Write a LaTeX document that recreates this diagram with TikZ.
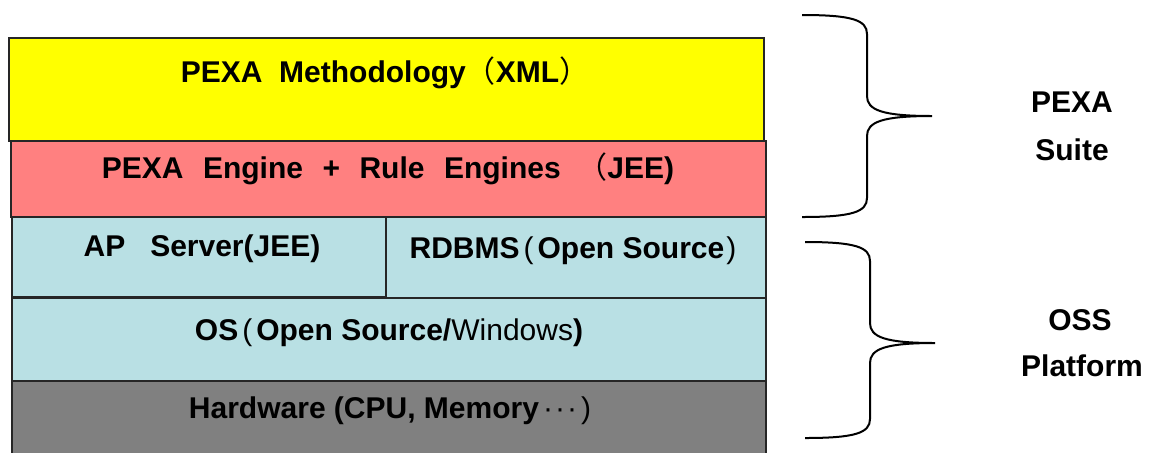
\documentclass[tikz,border=0pt]{standalone}
\usepackage{fontspec}
\setmainfont{Liberation Sans}
\newfontfamily\cjk{Noto Sans CJK SC}
\definecolor{pexayellow}{RGB}{255,255,0}
\definecolor{pexapink}{RGB}{255,128,128}
\definecolor{pexablue}{RGB}{185,224,228}
\definecolor{pexagray}{RGB}{128,128,128}
\newcommand{\fl}{{\cjk\mdseries （}}
\newcommand{\fr}{{\cjk\mdseries ）}}
\newcommand{\nl}{\kern2pt{\mdseries(}\kern2pt}
\newcommand{\nr}{\kern1pt{\mdseries)}}
\newcommand{\gap}{\ \ \kern1.4pt}
\begin{document}
\begin{tikzpicture}[x=0.5pt,y=-0.5pt,
  layer/.style={draw=black!85, line width=1pt, rectangle, anchor=north west, inner sep=0pt},
  txt/.style={font=\bfseries\fontsize{15}{18}\selectfont, inner sep=0pt, anchor=center},
  side/.style={font=\bfseries\fontsize{15}{18}\selectfont, inner sep=0pt, anchor=center},
  brace/.style={draw=black, line width=1pt}]
\useasboundingbox (0,0) rectangle (1151,452);
% layers
\node[layer, fill=pexayellow, minimum width=377.5pt, minimum height=51.5pt] (meth) at (8,37) {};
\node[layer, fill=pexapink, minimum width=377.5pt, minimum height=38pt] (engine) at (10,140) {};
\node[layer, fill=pexablue, minimum width=187pt, minimum height=40pt] (ap) at (11,216) {};
\node[layer, fill=pexablue, minimum width=190pt, minimum height=41pt] (rdbms) at (385,216) {};
\node[layer, fill=pexablue, minimum width=377pt, minimum height=41.5pt] (os) at (11,297) {};
\node[layer, fill=pexagray, minimum width=377pt, minimum height=45pt] (hw) at (11,380) {};
% texts
\node[txt] (tmeth) at (385,73) {PEXA\ \ Methodology\fl XML\fr};
\node[txt] (tengine) at (388,169) {PEXA\gap Engine\gap +\gap Rule\gap Engines\ \ \fl JEE)};
\node[txt] (tap) at (202,249) {AP\ \ \ Server(JEE)};
\node[txt] (trdbms) at (573,251) {RDBMS\nl Open Source\nr};
\node[txt] (tos) at (389,333) {OS\nl Open Source/{\mdseries Windows})};
\node[txt] (thw) at (390,411) {Hardware (CPU, Memory{\mdseries\kern2pt·\kern1pt·\kern1pt·\kern2pt)}};
% braces
\coordinate (b1t) at (802,15);
\coordinate (b1tip) at (932,116);
\coordinate (b1b) at (802,217);
\draw[brace] (b1t) .. controls (852,15) and (867,20) .. (867,34) -- (867,96)
  .. controls (867,110) and (882,116) .. (b1tip)
  .. controls (882,116) and (867,122) .. (867,136) -- (867,198)
  .. controls (867,212) and (852,217) .. (b1b);
\coordinate (b2t) at (805,242);
\coordinate (b2tip) at (935,343);
\coordinate (b2b) at (805,438);
\draw[brace] (b2t) .. controls (855,242) and (870,247) .. (870,261) -- (870,323)
  .. controls (870,337) and (885,343) .. (b2tip)
  .. controls (885,343) and (870,349) .. (870,363) -- (870,419)
  .. controls (870,433) and (855,438) .. (b2b);
% side labels
\node[side] (pexa) at (1072,102) {PEXA};
\node[side] (suite) at (1072,150) {Suite};
\node[side] (oss) at (1080,320) {OSS};
\node[side] (platform) at (1082,366) {Platform};
\end{tikzpicture}
\end{document}
